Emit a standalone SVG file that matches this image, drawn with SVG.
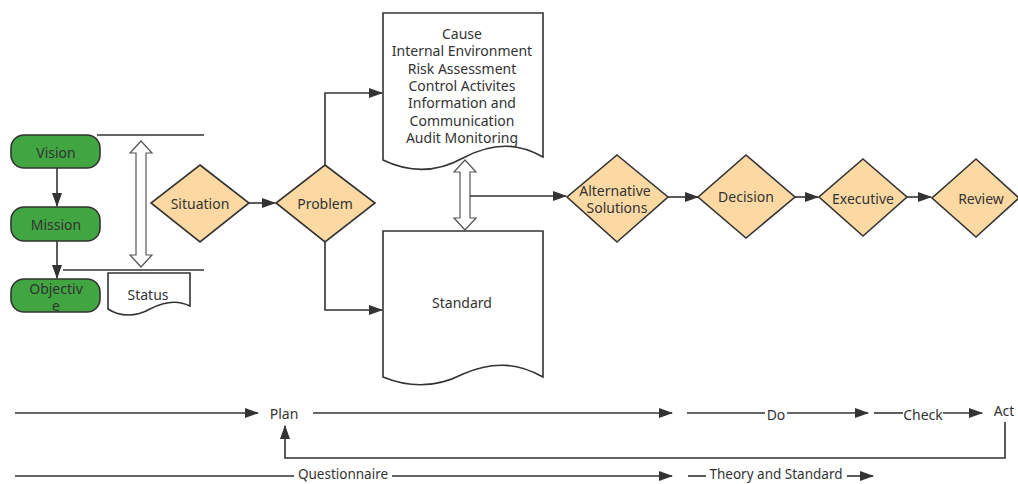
<svg xmlns="http://www.w3.org/2000/svg" width="1018" height="484" viewBox="0 0 1018 484">
<style>
text{font-family:"Noto Sans","Open Sans",sans-serif;font-size:14px;fill:#333;text-anchor:middle;dominant-baseline:central}
.g{fill:#41a541;stroke:#333;stroke-width:1.6}
.d{fill:#fcd9a3;stroke:#333;stroke-width:1.6}
.doc{fill:#fff;stroke:#333;stroke-width:1.6}
.ln{fill:none;stroke:#333;stroke-width:1.6}
.dbl{fill:#fff;stroke:#555;stroke-width:1.2}
</style>
<defs>
<marker id="ah" markerUnits="userSpaceOnUse" markerWidth="14" markerHeight="10" refX="13" refY="5" orient="auto">
<path d="M0,0 L14,5 L0,10 Z" fill="#333"/>
</marker>
</defs>
<g id="connectors">
<line class="ln" x1="57" y1="168" x2="57" y2="206" marker-end="url(#ah)"/>
<line class="ln" x1="57" y1="241" x2="57" y2="278" marker-end="url(#ah)"/>
<line class="ln" x1="97" y1="135" x2="204" y2="135"/>
<line class="ln" x1="63" y1="270" x2="204" y2="270"/>
<polygon id="dbl1" class="dbl" points="141,141 152,153 146,153 146,255 152,255 141,267 130,255 136,255 136,153 130,153"/>
<line class="ln" x1="249" y1="203" x2="275" y2="203" marker-end="url(#ah)"/>
<polyline class="ln" points="325,165 325,93 382,93" marker-end="url(#ah)"/>
<polyline class="ln" points="325,242 325,310 382,310" marker-end="url(#ah)"/>
<polygon id="dbl2" class="dbl" points="465,160 476,172 470,172 470,218 476,218 465,230 454,218 460,218 460,172 454,172"/>
<line class="ln" x1="470" y1="196" x2="566" y2="196" marker-end="url(#ah)"/>
<line class="ln" x1="668" y1="197" x2="698" y2="197" marker-end="url(#ah)"/>
<line class="ln" x1="795" y1="197" x2="818" y2="197" marker-end="url(#ah)"/>
<line class="ln" x1="907" y1="197" x2="931" y2="197" marker-end="url(#ah)"/>
<line class="ln" x1="15" y1="413" x2="258" y2="413" marker-end="url(#ah)"/>
<line class="ln" x1="313" y1="413" x2="672" y2="413" marker-end="url(#ah)"/>
<line class="ln" x1="687" y1="413" x2="765" y2="413"/>
<line class="ln" x1="787" y1="413" x2="868" y2="413" marker-end="url(#ah)"/>
<line class="ln" x1="874" y1="413" x2="903" y2="413"/>
<line class="ln" x1="943" y1="413" x2="982" y2="413" marker-end="url(#ah)"/>
<polyline class="ln" points="1005,422 1005,458 285,458 285,426" marker-end="url(#ah)"/>
<line class="ln" x1="15" y1="476" x2="294" y2="476"/>
<line class="ln" x1="392" y1="476" x2="672" y2="476" marker-end="url(#ah)"/>
<line class="ln" x1="688" y1="476" x2="706" y2="476"/>
<line class="ln" x1="847" y1="476" x2="873" y2="476" marker-end="url(#ah)"/>
</g>
<g id="vision"><rect class="g" x="11" y="135" width="89" height="33" rx="13"/><text x="56" y="152">Vision</text></g>
<g id="mission"><rect class="g" x="11" y="207" width="89" height="34" rx="13"/><text x="56" y="224">Mission</text></g>
<g id="objective"><rect class="g" x="11" y="279" width="89" height="33" rx="13"/><text x="56" y="288">Objectiv</text><text x="56" y="305">e</text></g>
<g id="status"><path class="doc" d="M108,273 H190 V306 C178,300 165,301 150,309 C136,317 120,317 108,309 Z"/><text x="148" y="294">Status</text></g>
<g id="situation"><polygon class="d" points="200,165 249,203 200,242 151,203"/><text x="200" y="203">Situation</text></g>
<g id="problem"><polygon class="d" points="325,165 375,203 325,242 276,203"/><text x="325" y="203">Problem</text></g>
<g id="cause"><path class="doc" d="M383,13 H543 V157 C520,144 495,141 463,158 C436,173 410,173 383,160 Z"/>
<text x="462" y="33">Cause</text><text x="462" y="50">Internal Environment</text><text x="462" y="68">Risk Assessment</text><text x="462" y="85">Control Activites</text><text x="462" y="102">Information and</text><text x="462" y="120">Communication</text><text x="462" y="137">Audit Monitoring</text></g>
<g id="standard"><path class="doc" d="M383,231 H543 V377 C520,364 495,360 463,374 C436,388 410,388 383,377 Z"/><text x="462" y="302">Standard</text></g>
<g id="alternative"><polygon class="d" points="617,155 668,197 617,242 567,197"/><text x="615" y="190">Alternative</text><text x="617" y="207">Solutions</text></g>
<g id="decision"><polygon class="d" points="746,155 795,197 746,238 698,197"/><text x="746" y="196">Decision</text></g>
<g id="executive"><polygon class="d" points="863,159 907,197 863,236 819,197"/><text x="863" y="198">Executive</text></g>
<g id="review"><polygon class="d" points="976,159 1019,198 976,237 932,198"/><text x="981" y="198">Review</text></g>
<g id="plan"><text x="284" y="413">Plan</text></g>
<g id="do"><text x="776" y="414">Do</text></g>
<g id="check"><text x="923" y="414">Check</text></g>
<g id="act"><text x="1004" y="410">Act</text></g>
<g id="questionnaire"><text x="343" y="474" style="font-size:13.5px">Questionnaire</text></g>
<g id="theory"><text x="776" y="474" style="font-size:13.5px">Theory and Standard</text></g>
</svg>
